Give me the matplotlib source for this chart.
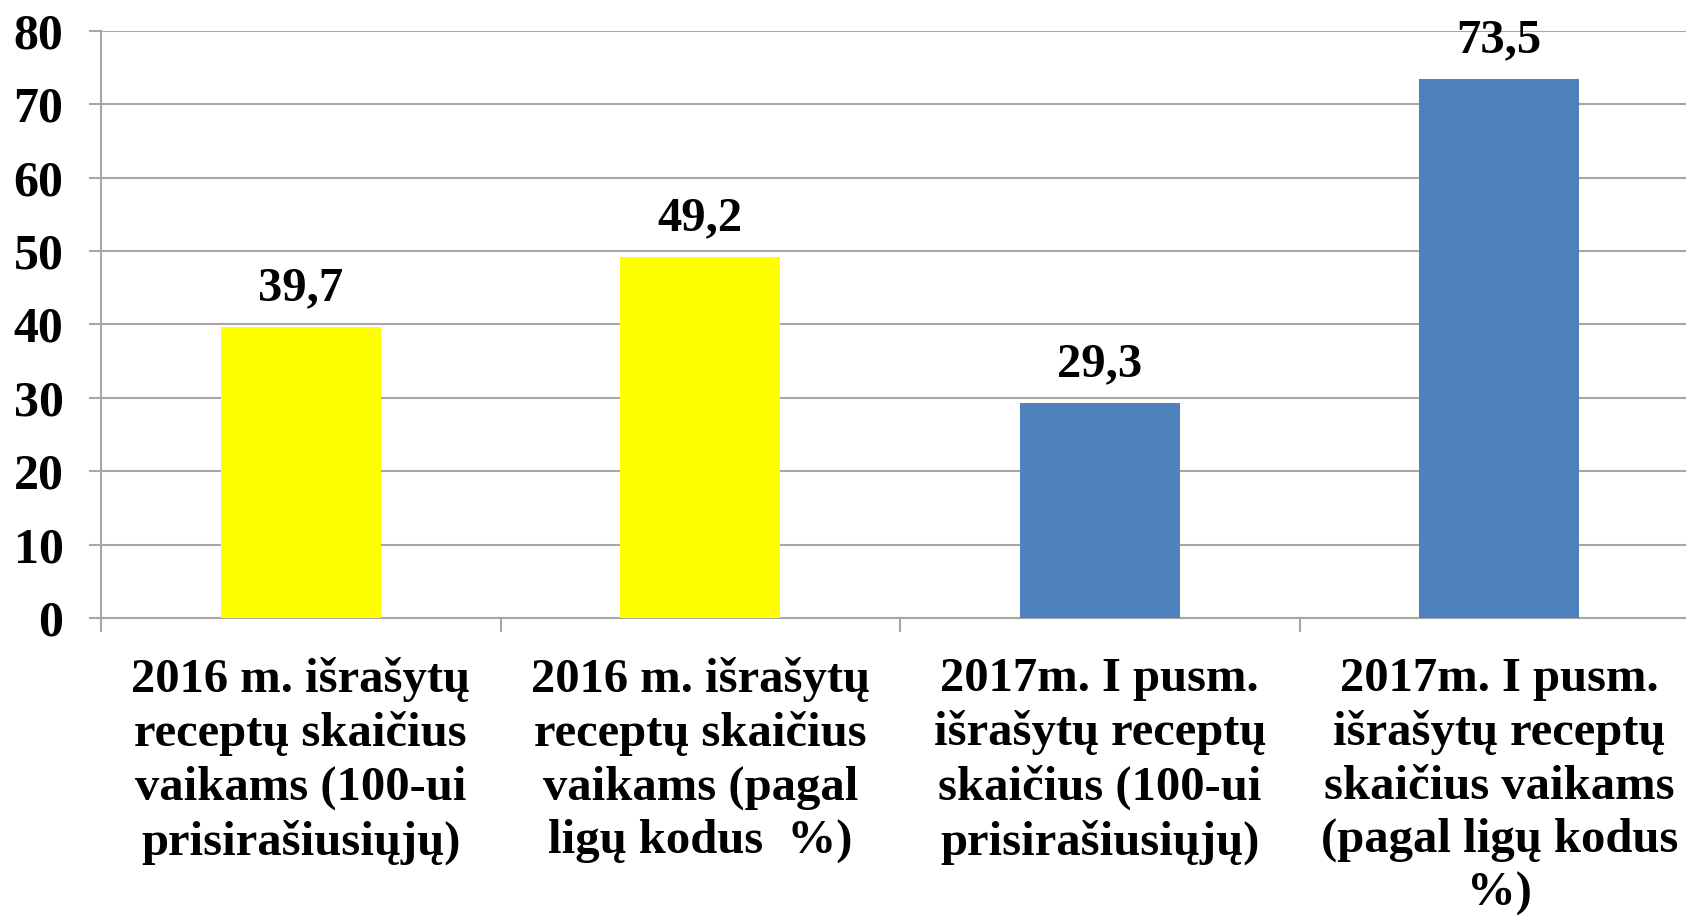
import numpy as np
import matplotlib
matplotlib.use("Agg")
import matplotlib.pyplot as plt

plt.rcParams['font.family'] = ['Liberation Serif', 'DejaVu Serif']
plt.rcParams['font.weight'] = 'bold'

categories = [
    "2016 m. išrašytų\nreceptų skaičius\nvaikams (100-ui\nprisirašiusiųjų)",
    "2016 m. išrašytų\nreceptų skaičius\nvaikams (pagal\nligų kodus  %)",
    "2017m. I pusm.\nišrašytų receptų\nskaičius (100-ui\nprisirašiusiųjų)",
    "2017m. I pusm.\nišrašytų receptų\nskaičius vaikams\n(pagal ligų kodus\n%)",
]
values = [39.7, 49.2, 29.3, 73.5]
colors = ["#FFFF00", "#FFFF00", "#4F81BD", "#4F81BD"]
yticks = [0, 10, 20, 30, 40, 50, 60, 70, 80]

grid_col = "#a6a6a6"

fig = plt.figure(figsize=(16.86, 9.21), dpi=100)
ax = fig.add_axes([101 / 1686, 303 / 921, 1598 / 1686, 587 / 921])

x = np.arange(len(values))
bars = ax.bar(x, values, width=0.4, color=colors, zorder=3)

for xi, v in zip(x, values):
    ax.annotate(f"{v:.1f}".replace('.', ','), (xi, v), xytext=(0, 12),
                textcoords='offset points', ha='center', va='bottom',
                fontsize=35, fontweight='bold')

ax.set_xlim(-0.5, len(values) - 0.5)
ax.set_ylim(0, 80)
ax.set_yticks(yticks)
ax.set_yticklabels([str(t) for t in yticks], fontsize=36, fontweight='bold')
ax.yaxis.grid(True, color=grid_col, linewidth=1.5, zorder=0)

# category boundaries as major ticks, labels at centres as minor ticks
ax.set_xticks(np.arange(len(values) + 1) - 0.5)
ax.set_xticklabels([])
ax.set_xticks(x, minor=True)
ax.set_xticklabels(categories, minor=True, fontsize=35, fontweight='bold',
                   linespacing=1.27, ha='center', va='top')
ax.tick_params(axis='x', which='major', length=10, width=1.5, color=grid_col)
ax.tick_params(axis='x', which='minor', length=0, pad=28)
ax.tick_params(axis='y', length=9, width=1.5, color=grid_col, pad=18)

for s in ['top', 'right']:
    ax.spines[s].set_visible(False)
for s in ['left', 'bottom']:
    ax.spines[s].set_color(grid_col)
    ax.spines[s].set_linewidth(1.5)

fig.savefig("out.png", dpi=100)
